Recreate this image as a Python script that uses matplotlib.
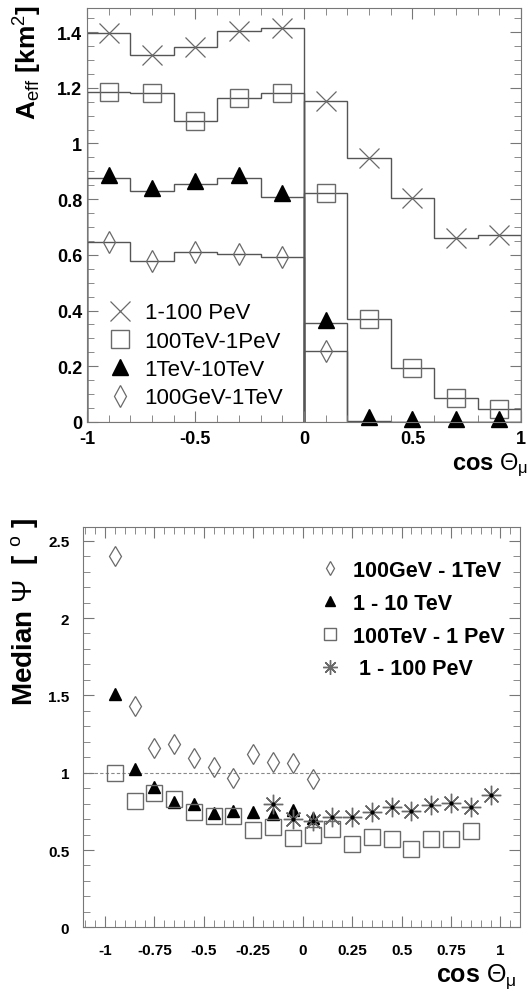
import numpy as np
import matplotlib
matplotlib.use("Agg")
import matplotlib.pyplot as plt
from matplotlib.ticker import MultipleLocator

plt.rcParams["font.family"] = ["Liberation Sans", "DejaVu Sans"]
plt.rcParams["mathtext.fontset"] = "custom"
plt.rcParams["mathtext.rm"] = "Liberation Sans"
plt.rcParams["mathtext.it"] = "Liberation Sans"
plt.rcParams["mathtext.bf"] = "Liberation Sans:bold"

# --- effective area (top), 10 bins in cos theta ---
edges = np.linspace(-1, 1, 11)
centers = 0.5 * (edges[:-1] + edges[1:])
aeff_pev = [1.396, 1.318, 1.345, 1.402, 1.414, 1.151, 0.949, 0.804, 0.660, 0.671]
aeff_100tev = [1.183, 1.180, 1.081, 1.162, 1.180, 0.822, 0.370, 0.193, 0.087, 0.045]
aeff_1tev = [0.876, 0.828, 0.854, 0.876, 0.809, 0.354, 0.005, 0.0, 0.0, 0.0]
aeff_100gev = [0.645, 0.577, 0.609, 0.604, 0.593, 0.256, 0.0, 0.0, 0.0, 0.0]
n_diamond_pts = 6

# --- median angular resolution (bottom) ---
cos_pts = np.round(np.arange(-0.95, 1.0, 0.1), 2)
psi_100gev = [2.40, 1.433, 1.160, 1.188, 1.095, 1.039, 0.968, 1.119, 1.067, 1.061, 0.959]
psi_1tev = [1.51, 1.024, 0.906, 0.808, 0.797, 0.739, 0.754, 0.748, 0.733, 0.761, 0.705]
psi_100tev = [1.0, 0.819, 0.869, 0.830, 0.748, 0.718, 0.718, 0.631, 0.651, 0.576,
              0.599, 0.636, 0.539, 0.582, 0.571, 0.506, 0.571, 0.571, 0.621]
psi_pev = [0.797, 0.700, 0.690, 0.716, 0.716, 0.748, 0.776, 0.754, 0.791, 0.802, 0.780, 0.856]

GREY = "#6a6a6a"
LINE = "#555555"

fig = plt.figure(figsize=(5.3, 9.95), dpi=100)


def style_ticks(ax, size):
    ax.tick_params(which="both", direction="in", top=True, right=True, colors="#777777",
                   labelcolor="black", labelsize=size)
    ax.tick_params(which="major", length=8)
    ax.tick_params(which="minor", length=5)
    for lab in ax.get_xticklabels() + ax.get_yticklabels():
        lab.set_fontweight("bold")
    for sp in ax.spines.values():
        sp.set_color("#777777")


# top panel
ax1 = fig.add_axes([0.164, 0.5749, 0.819, 0.416])
ax1.axhline(0, color="#c06060", lw=0.8, zorder=1)
split = 5
for vals in [aeff_pev, aeff_100tev, aeff_1tev, aeff_100gev]:
    ax1.stairs(vals[:split], edges[:split + 1], baseline=0, fill=False, color=LINE, lw=1.0)
    ax1.stairs(vals[split:], edges[split:], baseline=0, fill=False, color=LINE, lw=1.0)

ax1.plot(centers, aeff_pev, ls="none", marker="x", ms=15, mew=0.9, color=GREY,
         label="1-100 PeV")
ax1.plot(centers, aeff_100tev, ls="none", marker="s", ms=13, mew=1.0, mfc="none",
         mec=GREY, label="100TeV-1PeV")
ax1.plot(np.array(centers), np.array(aeff_1tev) + 0.012, ls="none", marker="^", ms=11,
         color="black", label="1TeV-10TeV", clip_on=False)
ax1.plot(centers[:n_diamond_pts], aeff_100gev[:n_diamond_pts], ls="none", marker="d",
         ms=11, mew=0.9, mfc="none", mec=GREY, label="100GeV-1TeV")

ax1.set_xlim(-1, 1)
ax1.set_ylim(0, 1.486)
ax1.set_xticks([-1, -0.5, 0, 0.5, 1])
ax1.set_xticklabels(["-1", "-0.5", "0", "0.5", "1"])
ax1.xaxis.set_minor_locator(MultipleLocator(0.1))
ax1.set_yticks([0, 0.2, 0.4, 0.6, 0.8, 1.0, 1.2, 1.4])
ax1.set_yticklabels(["0", "0.2", "0.4", "0.6", "0.8", "1", "1.2", "1.4"])
ax1.yaxis.set_minor_locator(MultipleLocator(0.05))
style_ticks(ax1, 13)
ax1.tick_params(axis="x", pad=6)
ax1.legend(loc="lower left", bbox_to_anchor=(0.0, -0.005), frameon=False, fontsize=16,
           handletextpad=0.3, labelspacing=0.33, borderaxespad=0.3, handlelength=1.6,
           markerscale=1.0)
fig.text(0.997, 1 - 465 / 995, r"cos $\Theta_\mu$", ha="right", va="center",
         fontsize=17, fontweight="bold")
fig.text(0.052, 1 - 5 / 995, r"A$_{\rm eff}$ [km$^2$]", rotation=90, ha="center",
         va="top", fontsize=19, fontweight="bold")

# bottom panel
ax2 = fig.add_axes([0.157, 0.067, 0.8245, 0.4026])
ax2.axhline(1.0, color="#888888", lw=0.8, ls=(0, (3, 2)), zorder=1)
ax2.plot(cos_pts[:len(psi_100gev)], psi_100gev, ls="none", marker="d", ms=10, mew=0.9,
         mfc="none", mec=GREY, label="100GeV - 1TeV")
ax2.plot(cos_pts[:len(psi_1tev)], psi_1tev, ls="none", marker="^", ms=9, color="black",
         label="1 - 10 TeV")
ax2.plot(cos_pts[:len(psi_100tev)], psi_100tev, ls="none", marker="s", ms=12, mew=1.0,
         mfc="none", mec=GREY, label="100TeV - 1 PeV")
ax2.plot(cos_pts[-len(psi_pev):], psi_pev, ls="none", marker=(8, 2, 0), ms=14, mew=1.0,
         color=GREY, label=" 1 - 100 PeV")
ax2.plot(cos_pts[-len(psi_pev):], psi_pev, ls="none", marker="o", ms=2, color="black")

ax2.set_xlim(-1.11, 1.10)
ax2.set_ylim(0, 2.59)
ax2.set_xticks([-1, -0.75, -0.5, -0.25, 0, 0.25, 0.5, 0.75, 1])
ax2.set_xticklabels(["-1", "-0.75", "-0.5", "-0.25", "0", "0.25", "0.5", "0.75", "1"])
ax2.xaxis.set_minor_locator(MultipleLocator(0.05))
ax2.set_yticks([0, 0.5, 1, 1.5, 2, 2.5])
ax2.set_yticklabels(["0", "0.5", "1", "1.5", "2", "2.5"])
ax2.yaxis.set_minor_locator(MultipleLocator(0.1))
style_ticks(ax2, 11)
ax2.tick_params(axis="x", pad=11)
ax2.tick_params(axis="y", pad=10)
ax2.legend(loc="upper right", bbox_to_anchor=(1.0, 0.955), frameon=False,
           prop={"size": 15.5, "weight": "bold"}, handletextpad=0.4, labelspacing=0.55,
           borderaxespad=0.3, markerscale=0.75, handlelength=1.4)
fig.text(0.975, 1 - 977 / 995, r"cos $\Theta_\mu$", ha="right", va="center",
         fontsize=18, fontweight="bold")
fig.text(0.047, 1 - 612 / 995, r"Median $\Psi$  [ $^{\rm o}$ ]", rotation=90,
         ha="center", va="center", fontsize=20, fontweight="bold")

fig.savefig("out.png", dpi=100)
